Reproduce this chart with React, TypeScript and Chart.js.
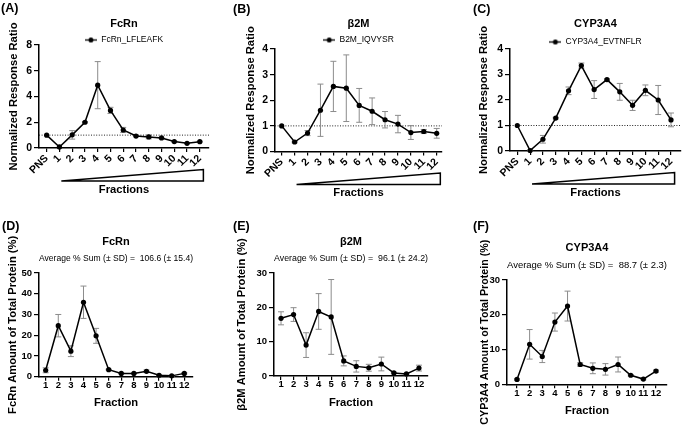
import React, { useEffect, useRef } from "react";
import { Chart, registerables } from "chart.js";
Chart.register(...registerables);

const FONT = "'Liberation Sans', Arial, Helvetica, sans-serif";
Chart.defaults.font.family = FONT;

// ---------- DATA ----------
const topCategories = ["PNS", "1", "2", "3", "4", "5", "6", "7", "8", "9", "10", "11", "12"];
const fracCategories = ["1", "2", "3", "4", "5", "6", "7", "8", "9", "10", "11", "12"];

const fcrnRatio = [1.0, 0.08, 1.02, 2.0, 4.88, 2.92, 1.4, 0.93, 0.86, 0.78, 0.5, 0.36, 0.49];
const fcrnRatioSD = [0, 0, 0.33, 0.05, 1.83, 0.24, 0.2, 0.05, 0.15, 0.05, 0.04, 0.03, 0.03];
const b2mRatio = [1.0, 0.37, 0.72, 1.61, 2.54, 2.47, 1.8, 1.57, 1.24, 1.07, 0.74, 0.78, 0.71];
const b2mRatioSD = [0, 0.03, 0.1, 1.02, 0.98, 1.3, 0.66, 0.52, 0.32, 0.34, 0.27, 0.08, 0.19];
const cypRatio = [1.0, 0.02, 0.46, 1.29, 2.36, 3.35, 2.41, 2.8, 2.32, 1.79, 2.38, 2.0, 1.22];
const cypRatioSD = [0, 0.02, 0.15, 0.03, 0.15, 0.1, 0.35, 0.03, 0.33, 0.2, 0.21, 0.57, 0.27];

const fcrnPct = [3.1, 24.6, 12.3, 35.9, 19.7, 3.4, 1.6, 1.6, 2.6, 0.7, 0.4, 1.6];
const fcrnPctSD = [1.2, 5.4, 2.6, 7.8, 3.6, 0.2, 0.2, 0.2, 0.6, 0.2, 0.1, 0.3];
const b2mPct = [16.8, 17.9, 9.0, 18.8, 17.2, 4.4, 2.8, 2.4, 3.5, 0.9, 0.6, 2.3];
const b2mPctSD = [1.9, 2.0, 3.6, 5.2, 10.9, 1.45, 1.65, 1.0, 2.0, 0.2, 0.2, 0.85];
const cypPct = [1.4, 11.5, 8.0, 17.9, 22.5, 5.7, 4.6, 4.3, 5.7, 2.6, 1.5, 3.8];
const cypPctSD = [0.2, 4.25, 1.75, 2.6, 4.3, 0.5, 1.55, 1.65, 2.15, 0.2, 0.2, 0.3];

const ratioTitle = "Normalized Response Ratio";
const fractionsTitle = "Fractions";
const fractionTitle = "Fraction";

// ---------- LAYOUT ----------
type Panel = {
  letter: string; letterX: number; letterY: number;
  cl: number; ct: number; cw: number; ch: number;
  L: number; R: number; T: number; B: number;
  xMin: number; xMax: number; yMax: number; yStep: number;
  categories: string[]; firstX: number; values: number[]; sd: number[];
  title: string; titleY: number;
  subtitle?: string; subY?: number;
  legend?: string; legendY?: number;
  yTitle: string; yTitleX: number; yTitleSize?: number;
  xTitle: string; xTitleY: number;
  top: boolean;
};

const panels: Panel[] = [
  {
    letter: "(A)", letterX: 1, letterY: 8, cl: 0, ct: 0, cw: 228, ch: 200,
    L: 39, R: 209, T: 45, B: 148, xMin: -0.6, xMax: 12.72, yMax: 8, yStep: 2,
    categories: topCategories, firstX: 0, values: fcrnRatio, sd: fcrnRatioSD,
    title: "FcRn", titleY: 24, legend: "FcRn_LFLEAFK", legendY: 40,
    yTitle: ratioTitle, yTitleX: 13.5, xTitle: fractionsTitle, xTitleY: 190, top: true,
  },
  {
    letter: "(B)", letterX: 233, letterY: 9, cl: 228, ct: 0, cw: 228, ch: 200,
    L: 275, R: 442, T: 49, B: 151.5, xMin: -0.52, xMax: 12.41, yMax: 4, yStep: 1,
    categories: topCategories, firstX: 0, values: b2mRatio, sd: b2mRatioSD,
    title: "β2M", titleY: 24, legend: "B2M_IQVYSR", legendY: 40,
    yTitle: ratioTitle, yTitleX: 250.5, xTitle: fractionsTitle, xTitleY: 193, top: true,
  },
  {
    letter: "(C)", letterX: 473, letterY: 9, cl: 456, ct: 0, cw: 229, ch: 200,
    L: 510, R: 682, T: 49, B: 151, xMin: -0.57, xMax: 12.78, yMax: 4, yStep: 1,
    categories: topCategories, firstX: 0, values: cypRatio, sd: cypRatioSD,
    title: "CYP3A4", titleY: 24, legend: "CYP3A4_EVTNFLR", legendY: 42,
    yTitle: ratioTitle, yTitleX: 484, xTitle: fractionsTitle, xTitleY: 193, top: true,
  },
  {
    letter: "(D)", letterX: 2, letterY: 226, cl: 0, ct: 210, cw: 228, ch: 217,
    L: 39, R: 193, T: 273, B: 376.7, xMin: 0.47, xMax: 12.69, yMax: 50, yStep: 10,
    categories: fracCategories, firstX: 1, values: fcrnPct, sd: fcrnPctSD,
    title: "FcRn", titleY: 241.7, subtitle: "Average % Sum (± SD) =  106.6 (± 15.4)", subY: 258,
    yTitle: "FcRn Amount of Total Protein (%)", yTitleX: 13, xTitle: fractionTitle, xTitleY: 403, top: false,
  },
  {
    letter: "(E)", letterX: 233, letterY: 226, cl: 228, ct: 210, cw: 228, ch: 217,
    L: 274, R: 428, T: 273, B: 376, xMin: 0.44, xMax: 12.72, yMax: 30, yStep: 10,
    categories: fracCategories, firstX: 1, values: b2mPct, sd: b2mPctSD,
    title: "β2M", titleY: 242, subtitle: "Average % Sum (± SD) =  96.1 (± 24.2)", subY: 258,
    yTitle: "β2M Amount of Total Protein (%)", yTitleX: 242, xTitle: fractionTitle, xTitleY: 403, top: false,
  },
  {
    letter: "(F)", letterX: 473, letterY: 226, cl: 456, ct: 210, cw: 229, ch: 217,
    L: 507, R: 667, T: 280, B: 384.3, xMin: 0.21, xMax: 12.87, yMax: 30, yStep: 10,
    categories: fracCategories, firstX: 1, values: cypPct, sd: cypPctSD,
    title: "CYP3A4", titleY: 248, subtitle: "Average % Sum (± SD) =  88.7 (± 2.3)", subY: 265,
    yTitle: "CYP3A4 Amount of Total Protein (%)", yTitleX: 485, yTitleSize: 10.7,
    xTitle: fractionTitle, xTitleY: 411, top: false,
  },
];

const TITLE_SIZE = 11;
const SUB_SIZE = 9.5;
const LEGEND_SIZE = 8.5;
const AXIS_TITLE_SIZE = 11.2;
const LH = 1.2;

function makeMarker(): HTMLCanvasElement {
  const c = document.createElement("canvas");
  c.width = 12; c.height = 7;
  const g = c.getContext("2d")!;
  g.strokeStyle = "#000"; g.lineWidth = 1.3;
  g.beginPath(); g.moveTo(0, 3.5); g.lineTo(12, 3.5); g.stroke();
  g.fillStyle = "#000";
  g.beginPath(); g.arc(6, 3.5, 2.5, 0, Math.PI * 2); g.fill();
  return c;
}

function decorPlugin(p: Panel, legendHeight: number) {
  return {
    id: "decor",
    beforeLayout(chart: any) {
      const lg = chart.legend;
      if (lg && !lg.__fixed) {
        const orig = lg.fit.bind(lg);
        lg.fit = function () {
          orig();
          this.height = legendHeight;
        };
        lg.__fixed = true;
      }
    },
    beforeDatasetsDraw(chart: any) {
      const { ctx, chartArea, scales } = chart;
      const x = scales.x, y = scales.y;
      ctx.save();
      if (p.top) {
        const py = y.getPixelForValue(1);
        ctx.setLineDash([1, 1.6]);
        ctx.strokeStyle = "#222";
        ctx.lineWidth = 1;
        ctx.beginPath(); ctx.moveTo(chartArea.left, py); ctx.lineTo(chartArea.right, py); ctx.stroke();
        ctx.setLineDash([]);
      }
      ctx.strokeStyle = "#8c8c8c";
      ctx.lineWidth = 1;
      p.sd.forEach((s, i) => {
        if (!s) return;
        const v = p.values[i];
        const px = x.getPixelForValue(i + p.firstX);
        const pt = y.getPixelForValue(v + s);
        const pb = y.getPixelForValue(Math.max(0, v - s));
        ctx.beginPath();
        ctx.moveTo(px, pt); ctx.lineTo(px, pb);
        ctx.moveTo(px - 3, pt); ctx.lineTo(px + 3, pt);
        ctx.moveTo(px - 3, pb); ctx.lineTo(px + 3, pb);
        ctx.stroke();
      });
      ctx.restore();
    },
    afterDraw(chart: any) {
      if (!p.top) return;
      const { ctx, chartArea, scales } = chart;
      const x = scales.x;
      const x0 = x.getPixelForValue(1.15), x1 = x.getPixelForValue(12.28);
      const yb = chartArea.bottom + 33, yt = chartArea.bottom + 21.5;
      ctx.save();
      ctx.beginPath();
      ctx.moveTo(x0, yb); ctx.lineTo(x1, yt); ctx.lineTo(x1, yb); ctx.closePath();
      ctx.fillStyle = "#fff"; ctx.fill();
      ctx.lineWidth = 1.5; ctx.strokeStyle = "#000"; ctx.lineJoin = "miter"; ctx.stroke();
      ctx.restore();
    },
  };
}

function buildChart(canvas: HTMLCanvasElement, p: Panel) {
  const T = p.T - p.ct, B = p.B - p.ct, L = p.L - p.cl, R = p.R - p.cl;
  const tLH = TITLE_SIZE * LH;
  const sLH = SUB_SIZE * LH;
  const aLH = AXIS_TITLE_SIZE * LH;
  const ySize = p.yTitleSize ?? AXIS_TITLE_SIZE;
  const yLH = ySize * LH;
  const titleCenter = p.titleY - p.ct;
  const titlePadTop = titleCenter - tLH / 2;
  const titleBottomNoPad = titleCenter + tLH / 2;
  let titlePadBottom = 0;
  let subPadTop = 0, subPadBottom = 0;
  let legendHeight = 0;
  if (p.subtitle) {
    const subCenter = (p.subY as number) - p.ct;
    subPadTop = subCenter - sLH / 2 - titleBottomNoPad;
    subPadBottom = T - (subCenter + sLH / 2);
  } else {
    const legendTop = (p.legendY as number) - p.ct - LEGEND_SIZE / 2;
    titlePadBottom = legendTop - titleBottomNoPad;
    legendHeight = T - legendTop;
  }
  const marker = makeMarker();
  const tickSize = p.top ? 10.5 : 9.5;
  const tickFont = { family: FONT, size: tickSize, weight: "bold" as const, lineHeight: 1 };
  const axisTitleFont = { family: FONT, size: AXIS_TITLE_SIZE, weight: "bold" as const, lineHeight: LH };
  const yTitleFont = { family: FONT, size: ySize, weight: "bold" as const, lineHeight: LH };
  const data = p.values.map((v, i) => ({ x: i + p.firstX, y: v }));
  const rot = p.top ? 45 : 0;

  return new Chart(canvas, {
    type: "line",
    data: {
      datasets: [
        {
          label: p.legend || p.title,
          data,
          borderColor: "#000",
          borderWidth: 1.5,
          pointRadius: 2.6,
          pointBackgroundColor: "#000",
          pointBorderWidth: 0,
          tension: 0,
          clip: false as any,
        },
      ],
    },
    options: {
      responsive: false,
      animation: false,
      devicePixelRatio: 1,
      layout: { padding: { left: 0, right: p.cw - R, top: 0, bottom: 0 } },
      plugins: {
        tooltip: { enabled: false },
        title: {
          display: true,
          text: p.title,
          fullSize: false,
          color: "#000",
          font: { family: FONT, size: TITLE_SIZE, weight: "bold", lineHeight: LH },
          padding: { top: titlePadTop, bottom: titlePadBottom },
        },
        subtitle: p.subtitle
          ? {
              display: true,
              text: p.subtitle,
              fullSize: false,
              color: "#000",
              font: { family: FONT, size: SUB_SIZE, weight: "normal", lineHeight: LH },
              padding: { top: subPadTop, bottom: subPadBottom },
            }
          : { display: false },
        legend: p.legend
          ? {
              display: true,
              position: "top",
              align: "center",
              fullSize: false,
              labels: {
                usePointStyle: true,
                pointStyleWidth: 12,
                padding: 0,
                color: "#222",
                font: { family: FONT, size: LEGEND_SIZE },
                generateLabels: () => [
                  {
                    text: p.legend as string,
                    pointStyle: marker as any,
                    fillStyle: "#000",
                    strokeStyle: "#000",
                    lineWidth: 0,
                    hidden: false,
                    datasetIndex: 0,
                  },
                ],
              },
            }
          : { display: false },
      },
      scales: {
        x: {
          type: "linear",
          min: p.xMin,
          max: p.xMax,
          afterBuildTicks: (s: any) => {
            s.ticks = p.categories.map((_, i) => ({ value: i + p.firstX }));
          },
          ticks: {
            autoSkip: false,
            maxRotation: rot,
            minRotation: rot,
            padding: p.top ? 1 : 0,
            color: "#000",
            font: tickFont,
            callback: (v: any) => p.categories[Math.round(Number(v)) - p.firstX] ?? "",
          },
          grid: { display: true, drawOnChartArea: false, drawTicks: true, tickLength: 4, color: "#000", lineWidth: 1.2 },
          border: { display: true, color: "#000", width: 1.5 },
          title: {
            display: true,
            text: p.xTitle,
            color: "#000",
            font: axisTitleFont,
            padding: { top: 0, bottom: p.ch - (p.xTitleY - p.ct) - aLH / 2 },
          },
          afterFit: (s: any) => {
            s.height = p.ch - B;
            s.paddingLeft = 0;
            s.paddingRight = 0;
          },
        },
        y: {
          type: "linear",
          min: 0,
          max: p.yMax,
          ticks: { stepSize: p.yStep, color: "#000", font: tickFont, padding: 2 },
          grid: { display: true, drawOnChartArea: false, drawTicks: true, tickLength: 5, color: "#000", lineWidth: 1.2 },
          border: { display: true, color: "#000", width: 1.5 },
          title: {
            display: true,
            text: p.yTitle,
            color: "#000",
            font: yTitleFont,
            padding: { top: p.yTitleX - p.cl - yLH / 2, bottom: 0 },
          },
          afterFit: (s: any) => {
            s.width = L;
            s.paddingTop = 0;
            s.paddingBottom = 0;
          },
        },
      },
    } as any,
    plugins: [decorPlugin(p, legendHeight)],
  });
}

function PanelView({ p }: { p: Panel }) {
  const ref = useRef<HTMLCanvasElement>(null);
  useEffect(() => {
    if (!ref.current) return;
    const chart = buildChart(ref.current, p);
    return () => chart.destroy();
  }, [p]);
  return (
    <>
      <canvas
        ref={ref}
        width={p.cw}
        height={p.ch}
        style={{ position: "absolute", left: p.cl, top: p.ct, width: p.cw, height: p.ch, display: "block" }}
      />
      <div
        style={{
          position: "absolute",
          left: p.letterX,
          top: p.letterY - 8,
          height: 16,
          lineHeight: "16px",
          fontFamily: FONT,
          fontWeight: "bold",
          fontSize: 12.5,
          color: "#000",
          whiteSpace: "nowrap",
        }}
      >
        {p.letter}
      </div>
    </>
  );
}

export default function App() {
  useEffect(() => {
    document.body.style.margin = "0";
  }, []);
  return (
    <div style={{ position: "absolute", left: 0, top: 0, width: 685, height: 427, background: "#fff", overflow: "hidden" }}>
      {panels.map((p) => (
        <PanelView key={p.letter} p={p} />
      ))}
    </div>
  );
}
